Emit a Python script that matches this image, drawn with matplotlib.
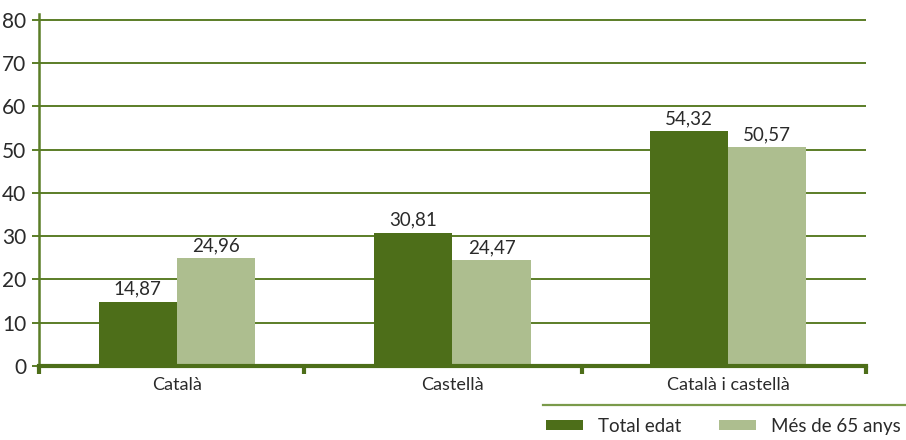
import matplotlib
matplotlib.use("Agg")
import matplotlib.pyplot as plt
from matplotlib.patches import Patch
from matplotlib.lines import Line2D
import numpy as np

categories = ["Català", "Castellà", "Català i castellà"]
series_names = ["Total edat", "Més de 65 anys"]
total_edat = [14.87, 30.81, 54.32]
mes_65 = [24.96, 24.47, 50.57]
y_ticks = [0, 10, 20, 30, 40, 50, 60, 70, 80]

dark = "#4d6e19"
light = "#adbe8f"
grid_col = "#5b7d27"
text_col = "#2a2a2a"

plt.rcParams["font.family"] = ["Lato", "DejaVu Sans"]

fig = plt.figure(figsize=(9.06, 4.40), dpi=100)
ax = fig.add_axes([39 / 906, 1 - 366 / 440, (866 - 39) / 906, 346 / 440 + 6.5 / 440])

x = np.arange(len(categories))
w = 0.283
b1 = ax.bar(x - w / 2, total_edat, width=w, color=dark, zorder=3)
b2 = ax.bar(x + w / 2, mes_65, width=w, color=light, zorder=3)

fmt = lambda v: f"{v:.2f}".replace(".", ",")
for bars, vals in ((b1, total_edat), (b2, mes_65)):
    ax.bar_label(bars, labels=[fmt(v) for v in vals], padding=3,
                 fontsize=13.5, color=text_col)

ax.set_xlim(-0.5, 2.5)
ax.set_ylim(0, 81.5)
ax.set_yticks(y_ticks)
ax.set_yticklabels([str(t) for t in y_ticks], fontsize=15, color=text_col)
ax.yaxis.grid(True, color=grid_col, linewidth=1.4, zorder=0)
ax.tick_params(axis="y", length=5, width=1.4, color=grid_col, pad=4)

# category labels centred under the bars, separator ticks between groups
ax.set_xticks(x)
ax.set_xticklabels(categories, fontsize=13, color=text_col)
ax.tick_params(axis="x", which="major", length=0, pad=8)
ax.set_xticks([-0.5, 0.46, 1.47, 2.5], minor=True)
ax.tick_params(axis="x", which="minor", length=6, width=3, color=dark)

for s in ("top", "right"):
    ax.spines[s].set_visible(False)
ax.spines["left"].set_color(grid_col)
ax.spines["left"].set_linewidth(1.8)
ax.spines["bottom"].set_color(dark)
ax.spines["bottom"].set_linewidth(3)
ax.spines["bottom"].set_zorder(4)

# legend with a rule above it
fig.add_artist(Line2D([543 / 906, 1.0], [1 - 405 / 440, 1 - 405 / 440],
                      color="#7a9a4a", linewidth=1.6))
handles = [Patch(facecolor=dark), Patch(facecolor=light)]
fig.legend(handles, series_names, loc="center left", ncol=2, frameon=False,
           bbox_to_anchor=(533 / 906, 1 - 426 / 440), fontsize=13.5,
           handlelength=1.97, handleheight=0.45, handletextpad=0.8,
           columnspacing=2.0, labelcolor=text_col, borderpad=0.2)

fig.savefig("out.png", dpi=100)
